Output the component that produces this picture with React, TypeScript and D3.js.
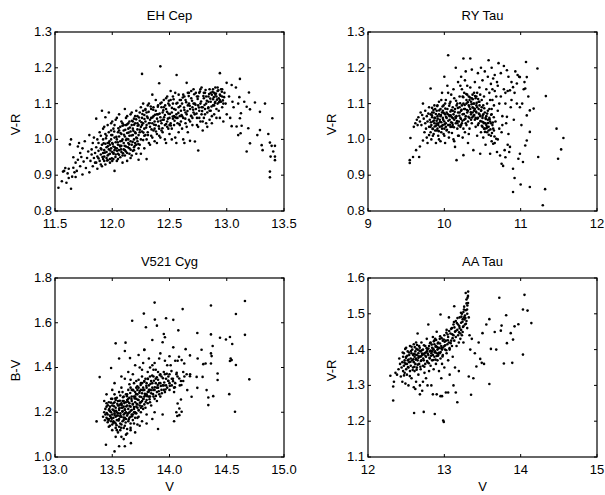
import React from "react";
import * as d3 from "d3";

type Pt = [number, number];

// EH Cep: V vs V-R
const ehCep: Pt[] = [
[11.53,0.865],[11.56,0.883],[11.58,0.912],[11.6,0.879],[11.61,0.905],[11.62,0.918],[11.63,0.986],[11.64,1.0],[11.64,0.862],[11.65,0.896],[11.66,0.921],[11.67,0.908],[11.68,0.935],[11.69,0.912],[11.7,0.943],[11.7,0.98],[11.71,0.99],[11.72,0.925],[11.73,0.951],[11.74,0.902],[11.75,0.938],[11.57,0.91],[11.59,0.92],[11.62,0.892],[11.66,0.95],[11.68,0.895],[11.72,0.962],[11.74,0.975],[11.76,0.995],[11.77,0.92],[11.78,0.948],[11.79,0.966],[11.8,0.908],[11.8,1.012],
[11.81,0.94],[11.82,0.958],[11.82,0.972],[11.83,0.925],[11.83,0.99],[11.84,0.948],[11.84,1.005],[11.85,0.962],[11.85,0.935],[11.86,0.978],[11.86,1.058],[11.87,0.952],[11.87,0.918],[11.88,0.968],[11.88,0.99],[11.89,0.94],[11.89,1.02],[11.9,0.958],[11.9,0.975],[11.9,0.93],[11.91,0.985],[11.91,1.08],[11.92,0.962],[11.92,0.945],[11.92,1.0],[11.93,0.97],[11.93,0.952],[11.93,1.035],[11.94,0.988],[11.94,0.93],[11.94,1.062],[11.95,0.965],[11.95,0.978],[11.95,1.01],[11.96,0.955],[11.96,0.99],[11.96,0.942],[11.97,0.972],[11.97,1.02],[11.97,1.075],[11.98,0.96],[11.98,0.985],[11.98,0.935],[11.99,1.0],[11.99,0.975],[11.99,1.045],
[12.0,0.965],[12.0,0.99],[12.0,1.012],[12.01,0.945],[12.01,0.98],[12.01,1.03],[12.02,0.912],[12.02,0.97],[12.02,1.005],[12.03,0.992],[12.03,0.958],[12.03,1.055],[12.04,0.975],[12.04,1.0],[12.04,0.94],[12.05,1.02],[12.05,0.985],[12.05,0.96],[12.06,1.008],[12.06,0.97],[12.06,1.07],[12.07,0.995],[12.07,0.95],[12.07,1.035],[12.08,0.982],[12.08,1.015],[12.08,0.965],[12.09,1.0],[12.09,0.935],[12.09,1.045],[12.1,0.99],[12.1,1.025],[12.1,0.972],[12.11,1.008],[12.11,0.955],[12.11,1.085],[12.12,0.998],[12.12,1.04],[12.12,0.98],[12.13,1.018],[12.13,0.962],[12.13,1.065],[12.14,1.0],[12.14,0.99],[12.14,1.03],[12.15,0.975],[12.15,1.05],[12.15,1.01],[12.16,0.948],[12.16,1.022],[12.16,0.995],[12.17,1.04],[12.17,0.985],[12.17,1.075],[12.18,1.012],[12.18,0.968],[12.18,1.03],[12.19,1.0],[12.19,1.058],[12.19,0.978],[12.2,1.02],[12.2,0.99],[12.2,1.045],[12.21,1.005],[12.21,0.96],[12.21,1.08],[12.22,1.028],[12.22,0.995],[12.22,1.065],[12.23,0.943],[12.23,1.012],[12.23,1.04],[12.24,0.985],[12.24,1.052],[12.24,1.02],[12.25,1.0],[12.25,1.035],[12.25,1.09],
[12.26,1.183],[12.26,1.022],[12.26,1.06],[12.27,0.998],[12.27,1.045],[12.27,1.08],[12.28,1.03],[12.28,0.975],[12.28,1.068],[12.29,1.012],[12.29,1.05],[12.3,0.945],[12.3,1.04],[12.3,1.075],[12.31,1.02],[12.31,1.06],[12.32,0.99],[12.32,1.1],[12.33,1.035],[12.33,1.055],[12.34,1.01],[12.34,1.085],[12.35,1.045],[12.35,1.125],[12.36,1.025],[12.36,1.065],[12.37,0.995],[12.37,1.05],[12.38,1.08],[12.38,1.04],[12.39,1.015],[12.39,1.07],[12.4,1.05],[12.4,1.095],[12.41,1.157],[12.41,1.03],[12.42,1.204],[12.42,1.062],[12.42,1.005],[12.43,1.045],[12.43,1.09],[12.44,1.075],[12.44,1.02],[12.45,1.055],[12.45,1.11],[12.46,1.04],[12.46,1.068],[12.47,0.99],[12.47,1.085],[12.48,1.05],[12.48,1.12],[12.49,1.03],[12.49,1.072],[12.5,1.06],[12.5,1.095],[12.5,1.015],[12.51,1.045],[12.51,1.135],[12.52,1.075],[12.52,1.0],[12.53,1.058],[12.53,1.1],[12.54,1.04],[12.54,1.085],[12.55,1.13],[12.55,1.062],[12.56,0.99],[12.56,1.07],[12.562,1.18],[12.57,1.045],[12.58,1.09],[12.58,1.02],[12.59,1.065],[12.59,1.11],[12.6,1.05],[12.6,1.08],
[12.61,1.03],[12.61,1.1],[12.62,1.06],[12.62,1.125],[12.63,0.99],[12.63,1.082],[12.64,1.045],[12.64,1.11],[12.65,1.158],[12.65,1.07],[12.66,1.02],[12.66,1.095],[12.67,1.13],[12.67,1.055],[12.679,0.996],[12.68,1.085],[12.69,1.115],[12.69,1.065],[12.7,1.09],[12.7,1.04],[12.71,1.14],[12.71,1.075],[12.72,1.1],[12.722,0.994],[12.73,1.085],[12.751,0.969],[12.74,1.12],[12.74,1.06],[12.75,1.095],[12.75,1.035],[12.76,1.13],[12.76,1.08],[12.77,1.1],[12.77,1.05],[12.78,1.145],[12.78,1.07],[12.79,1.09],[12.79,1.025],[12.8,1.115],[12.8,1.06],[12.81,1.085],[12.81,1.13],[12.82,1.045],[12.82,1.1],[12.83,1.075],[12.84,1.12],[12.84,1.09],[12.85,1.055],[12.85,1.14],[12.86,1.105],[12.86,1.08],[12.87,1.125],[12.87,1.045],[12.88,1.095],[12.88,1.112],[12.89,1.13],[12.89,1.07],[12.9,1.105],[12.9,1.145],[12.91,1.085],[12.91,1.12],[12.92,1.1],[12.92,1.135],[12.94,1.185],[12.93,1.115],[12.94,1.06],[12.94,1.125],[12.95,1.105],[12.95,1.14],[12.96,1.09],[12.96,1.12],[12.97,1.05],[12.98,1.13],[12.99,1.1],[12.999,1.158],[13.0,1.07],
[13.043,1.152],[13.115,1.169],[13.194,1.131],[13.11,1.118],[13.153,1.105],[13.246,1.103],[13.334,1.1],[13.1,1.1],[13.174,1.091],[13.203,1.084],[13.29,1.077],[13.124,1.073],[13.115,1.059],[13.398,1.059],[13.13,1.038],[13.086,1.036],[13.043,1.037],[13.188,1.031],[13.1,1.012],[13.121,1.017],[13.29,1.026],[13.267,1.012],[13.363,1.015],[13.203,0.989],[13.305,0.984],[13.313,0.97],[13.174,0.966],[13.377,0.991],[13.392,0.982],[13.421,0.982],[13.406,0.966],[13.383,0.952],[13.421,0.952],[13.421,0.942],[13.377,0.91],[13.377,0.894],[13.02,1.12],[13.06,1.09],[13.03,1.06],[13.08,1.145],[13.05,1.105],
[11.86,0.935],[11.87,1.0],[11.88,0.947],[11.9,1.01],[11.91,0.925],[11.92,1.03],[11.93,0.94],[11.94,1.015],[11.95,0.948],[11.96,1.04],[11.97,0.99],[11.98,0.945],[11.99,1.025],[12.0,0.94],[12.0,1.05],[12.01,0.96],[12.02,1.04],[12.03,0.975],[12.04,1.06],[12.05,0.945],[12.06,1.025],[12.07,0.98],[12.08,1.05],[12.09,0.955],[12.1,1.04],[12.11,0.97],[12.12,1.06],[12.13,0.94],[12.14,1.045],[12.15,0.96],[12.16,1.07],[12.17,0.955],[12.18,1.05],[12.19,0.97],[12.2,1.065],[12.21,0.985],[12.22,1.045],[12.23,0.975],[12.24,1.075],[12.25,0.96],[12.26,1.04],[12.27,1.1],[12.28,1.01],[12.29,1.085],[12.3,1.0],[12.31,1.095],[12.32,1.045],[12.33,0.985],[12.34,1.06],[12.35,1.005],[12.36,1.09],[12.37,1.03],[12.38,1.11],[12.39,0.99],[12.4,1.07],[12.41,1.01],[12.42,1.1],[12.43,1.025],[12.44,1.055],[12.45,1.09],[12.46,1.0],[12.47,1.115],[12.48,1.035],[12.49,1.1],[12.5,1.04],[12.51,1.11],[12.52,1.03],[12.53,1.12],[12.54,1.065],[12.55,1.005],[12.56,1.1],[12.57,1.06],[12.58,1.125],[12.59,1.04],[12.6,1.11],[12.61,1.065],[12.62,1.0],[12.63,1.12],[12.64,1.075],[12.65,1.035],[12.66,1.13],[12.67,1.1],[12.68,1.05],[12.69,1.135],[12.7,1.06],[12.71,1.1],[12.72,1.07],[12.73,1.13],[12.74,1.04],[12.75,1.12],[12.76,1.06],[12.77,1.14],[12.78,1.09],[12.79,1.05],[12.8,1.13],[12.81,1.07],[12.82,1.12],[12.83,1.035],[12.84,1.105],[12.85,1.08],[12.86,1.13],[12.87,1.065],[12.88,1.14],[12.89,1.095],[12.9,1.125],[12.91,1.06],[12.92,1.145],[12.93,1.08],[12.94,1.11],[12.96,1.14],[12.97,1.1],
[11.905,0.972],[11.915,0.951],[11.925,0.989],[11.935,0.963],[11.945,1.003],[11.955,0.941],[11.962,0.981],[11.968,0.958],[11.975,0.995],[11.983,0.969],[11.991,1.012],[11.996,0.947],[12.004,0.987],[12.011,0.962],[12.017,1.022],[12.023,0.978],[12.028,0.951],[12.036,1.007],[12.042,0.968],[12.048,0.992],[12.053,1.031],[12.059,0.957],[12.066,0.983],[12.072,1.018],[12.077,0.972],[12.084,0.996],[12.089,1.038],[12.094,0.961],[12.103,1.013],[12.108,0.982],[12.114,1.027],[12.119,0.966],[12.126,1.002],[12.131,1.042],[12.137,0.978],[12.143,1.019],[12.148,0.986],[12.154,1.033],[12.161,0.971],[12.167,1.011],[12.172,1.052],[12.178,0.993],[12.184,1.024],[12.191,1.041],[12.197,0.982],[12.204,1.017],[12.209,1.056],[12.216,1.003],[12.222,1.038],[12.228,0.987],[12.234,1.061],[12.241,1.027],
[12.256,1.048],[12.263,1.071],[12.272,1.019],[12.281,1.057],[12.289,1.082],[12.296,1.033],[12.304,1.064],[12.312,1.012],[12.318,1.077],[12.327,1.046],[12.336,1.092],[12.343,1.028],[12.351,1.061],[12.358,1.083],[12.366,1.041],[12.374,1.069],[12.382,1.022],[12.391,1.058],[12.398,1.091],[12.406,1.037],[12.414,1.072],[12.423,1.052],[12.431,1.103],[12.438,1.031],[12.446,1.081],[12.453,1.062],[12.462,1.095],[12.471,1.043],[12.478,1.077],[12.486,1.058],[12.494,1.108],[12.503,1.071],[12.512,1.039],[12.521,1.088],[12.528,1.064],[12.536,1.112],[12.544,1.052],[12.553,1.083],[12.561,1.06],[12.569,1.102],[12.577,1.074],[12.586,1.043],[12.594,1.093],
[12.605,1.068],[12.616,1.117],[12.627,1.089],[12.638,1.058],[12.646,1.104],[12.657,1.079],[12.668,1.121],[12.677,1.094],[12.688,1.066],[12.697,1.108],[12.707,1.083],[12.716,1.126],[12.727,1.097],[12.736,1.072],[12.746,1.113],[12.757,1.089],[12.766,1.134],[12.776,1.106],[12.785,1.079],[12.796,1.121],[12.806,1.096],[12.815,1.138],[12.826,1.108],[12.837,1.087],[12.846,1.127],[12.856,1.114],[12.867,1.092],[12.876,1.133],[12.887,1.118],[12.896,1.102],[12.905,1.128],[12.915,1.111],[12.926,1.137],[12.934,1.104],[12.945,1.122],[12.957,1.133],[12.966,1.109],[12.977,1.118]
];

// RY Tau: V vs V-R
const ryTau: Pt[] = [
[9.547,0.942],[9.547,0.934],[9.556,1.004],[9.59,0.951],[9.6,1.035],[9.62,1.045],[9.63,0.97],[9.64,1.055],[9.65,1.04],[9.66,1.062],[9.67,0.951],[9.68,0.98],[9.68,1.05],[9.69,1.075],[9.7,1.04],[9.71,1.068],[9.72,0.997],[9.72,1.1],[9.73,1.058],[9.74,1.02],[9.75,1.045],[9.75,1.08],[9.76,1.03],[9.77,1.065],[9.77,1.005],[9.78,1.05],[9.78,0.99],[9.79,1.072],[9.8,1.035],[9.8,1.012],[9.8,1.09],[9.82,1.142],
[9.81,1.055],[9.82,1.02],[9.82,1.07],[9.83,1.04],[9.83,1.0],[9.84,1.062],[9.84,1.088],[9.85,1.03],[9.85,1.05],[9.86,1.015],[9.86,1.075],[9.87,1.045],[9.87,1.095],[9.88,1.025],[9.88,1.06],[9.89,1.038],[9.89,0.99],[9.9,1.052],[9.9,1.08],[9.91,1.03],[9.91,1.065],[9.92,1.045],[9.92,1.01],[9.93,1.07],[9.93,1.105],[9.94,1.035],[9.94,1.055],[9.95,0.995],[9.95,1.085],[9.96,1.048],[9.96,1.02],[9.97,1.075],[9.97,1.13],[9.98,1.04],[9.98,1.06],[9.99,1.015],[9.99,1.095],[10.0,1.05],[10.0,1.175],[10.0,1.03],[10.01,1.07],[10.01,0.99],[10.02,1.11],[10.02,1.045],[10.03,1.06],[10.03,1.025],[10.04,1.085],[10.04,1.15],[10.05,1.235],[10.05,1.04],[10.06,1.068],[10.06,1.005],[10.07,1.1],[10.07,1.055],[10.08,1.035],[10.08,1.078],[10.09,1.125],[10.09,1.048],[10.1,1.062],[10.1,1.018],[10.11,1.09],[10.11,1.04],[10.12,1.14],[10.12,1.07],[10.13,1.055],[10.13,0.995],[10.14,0.979],[10.14,1.085],[10.15,1.045],[10.15,1.2],[10.16,0.942],[10.16,1.065],[10.17,1.1],[10.17,1.03],[10.18,1.16],[10.18,1.075],[10.19,1.05],[10.19,1.01],[10.2,1.09],[10.2,1.12],
[10.21,1.06],[10.21,1.035],[10.22,1.175],[10.22,1.08],[10.23,1.045],[10.23,1.14],[10.24,1.07],[10.24,1.005],[10.25,0.956],[10.25,1.226],[10.25,1.1],[10.26,1.055],[10.26,1.13],[10.27,1.085],[10.27,1.02],[10.28,1.065],[10.28,1.19],[10.29,1.04],[10.29,1.11],[10.3,1.075],[10.3,1.15],[10.31,1.05],[10.31,0.99],[10.32,1.095],[10.32,1.12],[10.33,1.06],[10.33,1.03],[10.34,1.226],[10.34,1.085],[10.35,1.105],[10.35,1.07],[10.36,1.195],[10.36,1.045],[10.37,1.09],[10.37,1.125],[10.38,1.065],[10.38,0.97],[10.39,1.1],[10.39,1.08],[10.4,1.055],[10.4,1.16],[10.41,1.115],[10.41,1.035],[10.42,1.075],[10.42,1.095],[10.43,1.13],[10.43,1.01],[10.44,1.06],[10.44,1.185],[10.45,1.085],[10.45,1.045],[10.46,1.105],[10.46,1.145],[10.47,0.96],[10.47,1.065],[10.48,1.02],[10.48,1.2],[10.49,1.09],[10.49,1.05],[10.5,1.035],[10.5,1.165],[10.51,1.07],[10.51,1.005],[10.52,1.045],[10.52,1.12],[10.53,1.03],[10.53,1.19],[10.54,1.06],[10.54,0.985],[10.55,1.14],[10.55,1.04],[10.56,1.1],[10.56,1.02],[10.57,1.055],[10.57,1.175],[10.58,1.221],[10.58,1.035],[10.59,1.085],[10.59,1.13],[10.6,0.96],[10.6,1.05],[10.61,1.155],[10.61,1.01],[10.62,1.07],[10.62,1.2],[10.63,1.04],[10.63,1.11],[10.64,0.988],[10.64,1.17],[10.65,1.025],[10.65,1.095],
[10.66,1.135],[10.67,1.05],[10.68,1.002],[10.69,1.16],[10.7,1.08],[10.71,1.213],[10.72,1.03],[10.73,0.955],[10.74,1.12],[10.75,0.932],[10.76,1.065],[10.77,0.926],[10.78,1.14],[10.79,0.97],[10.8,1.1],[10.81,1.045],[10.82,1.193],[10.82,1.063],[10.83,1.135],[10.84,1.015],[10.86,1.137],[10.86,0.979],[10.87,1.09],[10.88,1.16],[10.9,0.918],[10.9,0.853],[10.9,1.146],[10.91,1.055],[10.92,0.892],[10.93,1.19],[10.95,1.156],[10.95,1.1],[10.97,0.946],[10.98,1.175],[10.99,0.96],[10.99,1.09],[10.99,1.174],[11.0,0.874],[11.01,1.04],[11.03,0.937],[11.04,1.14],[11.06,0.983],[11.06,1.142],[11.07,1.216],[11.08,0.997],[11.08,1.067],[11.08,1.174],[11.1,1.12],[11.12,1.021],[11.12,1.081],[11.12,0.867],[11.17,1.086],[11.22,1.198],[11.23,0.951],[11.29,0.816],[11.32,0.861],[11.33,1.121],[11.47,1.03],[11.49,0.946],[11.53,0.972],[11.56,1.004],
[9.82,1.035],[9.84,1.075],[9.85,1.01],[9.87,1.06],[9.88,1.085],[9.9,1.025],[9.91,1.095],[9.92,1.04],[9.93,1.0],[9.95,1.065],[9.96,1.11],[9.97,1.03],[9.98,1.08],[10.0,1.01],[10.01,1.1],[10.02,1.035],[10.03,1.075],[10.05,1.13],[10.06,1.02],[10.07,1.065],[10.08,1.105],[10.1,1.035],[10.11,1.08],[10.12,1.0],[10.13,1.115],[10.15,1.06],[10.16,1.095],[10.17,1.045],[10.18,1.01],[10.2,1.075],[10.21,1.15],[10.22,1.04],[10.23,1.095],[10.24,1.12],[10.25,1.03],[10.26,1.085],[10.27,1.165],[10.28,1.045],[10.29,1.1],[10.3,1.125],[10.31,1.08],[10.32,1.015],[10.33,1.11],[10.34,1.145],[10.35,1.055],[10.36,1.115],[10.37,1.075],[10.38,1.1],[10.39,1.13],[10.4,1.085],[10.41,1.06],[10.42,1.12],[10.43,1.09],[10.44,1.04],[10.45,1.105],[10.46,1.07],[10.47,1.125],[10.48,1.08],[10.49,1.11],[10.5,1.06],[10.51,1.095],[10.52,1.03],[10.53,1.075],[10.54,1.045],[10.55,1.065],[10.56,1.035],[10.57,1.08],[10.58,1.025],[10.59,1.06],[10.6,1.11],[10.61,1.045],[10.62,1.085],[10.63,1.14],[10.64,1.03],[10.66,1.18],[10.68,1.12],[10.7,1.15],[10.72,1.1],[10.74,1.185],[10.76,1.04],[10.78,1.205],[10.8,1.13],[10.84,1.175],[10.88,1.11],[10.92,1.13],[10.96,1.18],[11.02,1.1],[11.05,1.16],[10.62,0.995],[10.66,0.99],[10.7,1.0],[10.69,0.965],[10.75,1.02],[10.83,0.985],[10.85,0.965],[10.8,0.95],
[9.823,1.048],[9.838,1.067],[9.846,1.029],[9.857,1.082],[9.866,1.053],[9.874,1.036],[9.889,1.071],[9.897,1.044],[9.906,1.093],[9.913,1.058],[9.927,1.023],[9.934,1.081],[9.943,1.049],[9.956,1.068],[9.964,1.037],[9.976,1.092],[9.985,1.055],[9.993,1.074],[10.004,1.042],[10.013,1.086],[10.022,1.063],[10.034,1.027],[10.043,1.071],[10.052,1.052],[10.064,1.094],[10.073,1.041],[10.084,1.067],[10.093,1.082],[10.104,1.046],[10.113,1.059],[10.126,1.034],[10.135,1.077],[10.146,1.063],[10.154,1.108],[10.166,1.051],[10.177,1.088],[10.188,1.039],[10.196,1.066],[10.207,1.101],[10.218,1.057],[10.226,1.083],[10.237,1.052],[10.248,1.118],[10.256,1.071],[10.267,1.096],[10.276,1.058],[10.287,1.127],[10.296,1.082],[10.307,1.104],[10.316,1.063],[10.327,1.091],[10.336,1.117],[10.347,1.076],[10.356,1.098],[10.364,1.061],[10.373,1.112],[10.384,1.087],[10.392,1.068],[10.403,1.121],[10.414,1.078],[10.423,1.102],[10.432,1.058],[10.443,1.113],[10.452,1.072],[10.461,1.095],[10.472,1.051],[10.483,1.081],[10.491,1.038],[10.502,1.066],[10.511,1.048],[10.523,1.087],[10.532,1.021],[10.543,1.057],[10.552,1.031],[10.561,1.072],[10.573,1.046],[10.582,1.013],[10.593,1.056],[10.604,1.028],[10.613,1.069],[10.624,1.018],[10.636,1.047],[10.648,1.062],[10.657,1.008]
];

// V521 Cyg: V vs B-V
const v521Cyg: Pt[] = [
[13.363,1.159],[13.39,1.357],[13.42,1.18],[13.43,1.2],[13.436,1.164],[13.44,1.215],[13.445,1.055],[13.45,1.175],[13.45,1.24],[13.46,1.19],[13.46,1.155],[13.47,1.21],[13.47,1.17],[13.48,1.225],[13.48,1.185],[13.48,1.14],[13.49,1.2],[13.49,1.16],[13.5,1.23],[13.5,1.19],[13.5,1.145],[13.5,1.26],[13.51,1.175],[13.51,1.21],[13.52,1.025],[13.52,1.195],[13.52,1.155],[13.52,1.245],[13.53,1.18],[13.53,1.22],[13.53,1.508],[13.53,1.13],[13.54,1.2],[13.54,1.165],[13.54,1.265],[13.55,1.185],[13.55,1.23],[13.55,1.11],[13.56,1.048],[13.56,1.21],[13.56,1.17],[13.56,1.29],[13.57,1.195],[13.57,1.235],[13.57,1.15],[13.58,1.22],[13.58,1.18],[13.58,1.09],[13.58,1.31],[13.59,1.205],[13.59,1.25],[13.59,1.16],[13.6,1.19],[13.6,1.225],[13.6,1.27],[13.6,1.13],[13.61,1.048],[13.61,1.21],[13.61,1.175],[13.61,1.35],[13.62,1.2],[13.62,1.245],[13.62,1.1],[13.616,1.511],[13.63,1.23],[13.63,1.185],[13.63,1.28],[13.64,1.215],[13.64,1.16],[13.64,1.26],[13.65,1.2],[13.65,1.24],[13.65,1.325],[13.66,1.225],[13.66,1.18],[13.66,1.12],[13.663,1.062],[13.67,1.25],[13.67,1.21],[13.67,1.3],[13.674,1.609],[13.68,1.235],[13.68,1.19],[13.68,1.37],[13.69,1.27],[13.69,1.215],[13.69,1.15],[13.7,1.245],[13.7,1.2],[13.7,1.29],[13.71,1.26],[13.71,1.225],[13.71,1.34],[13.72,1.28],[13.72,1.235],[13.72,1.175],[13.73,1.255],[13.73,1.31],[13.73,1.21],[13.74,1.27],[13.74,1.4],[13.74,1.14],[13.75,1.3],[13.75,1.245],[13.75,1.22],
[13.76,1.285],[13.76,1.33],[13.77,1.26],[13.77,1.42],[13.776,1.641],[13.78,1.3],[13.78,1.235],[13.78,1.48],[13.79,1.275],[13.79,1.35],[13.794,1.58],[13.8,1.31],[13.8,1.255],[13.8,1.19],[13.81,1.29],[13.81,1.38],[13.82,1.32],[13.82,1.27],[13.82,1.44],[13.83,1.3],[13.83,1.245],[13.84,1.34],[13.84,1.285],[13.85,1.523],[13.85,1.31],[13.85,1.41],[13.86,1.27],[13.86,1.36],[13.87,1.69],[13.87,1.3],[13.87,1.2],[13.872,1.614],[13.88,1.33],[13.88,1.39],[13.89,1.29],[13.89,1.587],[13.89,1.25],[13.9,1.345],[13.9,1.31],[13.91,1.44],[13.91,1.28],[13.92,1.33],[13.92,1.37],[13.93,1.3],[13.95,1.55],[13.96,1.535],[13.94,1.513],[13.95,1.32],[13.95,1.38],[13.96,1.29],[13.97,1.62],[13.97,1.35],[13.98,1.31],[13.99,1.34],[14.0,1.37],[14.0,1.3],[14.01,1.41],[14.02,1.32],[14.03,1.35],[14.04,1.29],[14.05,1.33],[14.05,1.43],[14.06,1.37],[14.1,1.34],[14.12,1.38],[14.13,1.36],[14.18,1.37],
[14.659,1.697],[14.115,1.661],[14.362,1.677],[14.58,1.639],[14.033,1.613],[14.077,1.566],[14.243,1.554],[14.362,1.548],[14.659,1.546],[14.441,1.533],[14.493,1.525],[14.528,1.536],[14.548,1.505],[14.377,1.496],[14.033,1.49],[14.141,1.482],[14.28,1.479],[14.362,1.463],[14.368,1.451],[14.179,1.454],[14.246,1.44],[14.083,1.448],[14.071,1.43],[14.106,1.433],[14.129,1.418],[14.295,1.415],[14.315,1.418],[14.362,1.418],[14.534,1.44],[14.543,1.433],[14.528,1.429],[14.58,1.411],[14.42,1.373],[14.42,1.344],[14.697,1.347],[14.237,1.358],[14.289,1.358],[14.179,1.361],[14.243,1.309],[14.155,1.299],[14.193,1.269],[14.324,1.299],[14.339,1.266],[14.382,1.272],[14.339,1.232],[14.522,1.281],[14.572,1.202],[14.071,1.239],[14.1,1.257],[14.086,1.217],[14.106,1.202],[14.068,1.183],[14.086,1.187],
[13.44,1.19],[13.45,1.225],[13.46,1.17],[13.47,1.245],[13.47,1.135],[13.48,1.205],[13.49,1.26],[13.49,1.175],[13.5,1.12],[13.51,1.24],[13.51,1.16],[13.52,1.28],[13.52,1.205],[13.53,1.15],[13.53,1.255],[13.54,1.185],[13.54,1.12],[13.55,1.25],[13.55,1.165],[13.56,1.23],[13.56,1.135],[13.57,1.275],[13.57,1.18],[13.58,1.24],[13.58,1.145],[13.59,1.29],[13.59,1.22],[13.6,1.165],[13.6,1.25],[13.61,1.195],[13.61,1.14],[13.62,1.28],[13.62,1.17],[13.63,1.255],[13.63,1.125],[13.64,1.195],[13.64,1.3],[13.65,1.175],[13.65,1.265],[13.66,1.15],[13.66,1.31],[13.67,1.19],[13.67,1.27],[13.68,1.165],[13.68,1.3],[13.69,1.2],[13.69,1.33],[13.7,1.175],[13.7,1.27],[13.71,1.195],[13.71,1.31],[13.72,1.22],[13.72,1.3],[13.73,1.18],[13.73,1.345],[13.74,1.23],[13.74,1.295],[13.75,1.2],[13.75,1.33],[13.76,1.25],[13.76,1.36],[13.77,1.215],[13.77,1.31],[13.78,1.27],[13.78,1.34],[13.79,1.22],[13.8,1.33],[13.8,1.28],[13.81,1.24],[13.81,1.35],[13.82,1.3],[13.83,1.27],[13.83,1.36],[13.84,1.23],[13.85,1.33],[13.86,1.3],[13.86,1.39],[13.87,1.26],[13.88,1.35],[13.89,1.31],[13.9,1.38],[13.91,1.33],[13.92,1.27],[13.93,1.36],[13.94,1.32],[13.95,1.3],[13.96,1.37],[13.97,1.32],[13.99,1.36],[14.0,1.33],[14.02,1.35],[14.04,1.31],[14.07,1.36],[14.09,1.32],[14.12,1.34],[14.15,1.37],
[13.53,1.09],[13.57,1.12],[13.6,1.08],[13.63,1.105],[13.66,1.13],[13.7,1.11],[13.72,1.145],[13.76,1.16],[13.8,1.15],[13.85,1.17],[13.9,1.125],[13.94,1.19],[14.04,1.16],[14.06,1.2],
[13.655,1.442],[13.73,1.456],[13.78,1.478],[13.92,1.463],[13.56,1.44],[13.49,1.398],[13.61,1.474],[13.87,1.42],[13.7,1.41],[13.76,1.39],[13.64,1.38],[13.58,1.36],[13.52,1.33],[13.66,1.345],[13.83,1.4],[13.96,1.43],[13.98,1.41],[14.0,1.45],[13.5,1.3],[13.45,1.28],[13.43,1.25],
[13.452,1.196],[13.461,1.231],[13.468,1.163],[13.474,1.214],[13.483,1.182],[13.489,1.243],[13.496,1.171],[13.503,1.212],[13.509,1.153],[13.516,1.227],[13.521,1.188],[13.527,1.262],[13.533,1.207],[13.538,1.142],[13.544,1.238],[13.549,1.196],[13.556,1.163],[13.561,1.218],[13.566,1.251],[13.572,1.186],[13.577,1.131],[13.583,1.232],[13.589,1.203],[13.594,1.267],[13.599,1.176],[13.605,1.241],[13.611,1.213],[13.617,1.154],[13.622,1.226],[13.628,1.272],[13.633,1.193],[13.639,1.247],[13.644,1.168],[13.651,1.228],[13.657,1.286],[13.662,1.207],[13.668,1.259],[13.673,1.182],[13.679,1.238],[13.685,1.297],[13.69,1.223],[13.696,1.262],[13.702,1.196],[13.708,1.281],[13.713,1.238],[13.719,1.316],[13.724,1.256],[13.731,1.208],[13.737,1.287],[13.742,1.243],[13.748,1.322],[13.754,1.268],[13.76,1.227],[13.767,1.298],[13.773,1.259],[13.779,1.336],[13.785,1.282],[13.792,1.246],[13.798,1.318],[13.805,1.272],[13.812,1.349],[13.819,1.292],[13.826,1.258],[13.834,1.327],[13.841,1.298],[13.849,1.364],[13.856,1.281],[13.864,1.341],[13.872,1.312],[13.881,1.273],[13.889,1.356],[13.897,1.322],[13.906,1.294],[13.915,1.366],[13.924,1.317],[13.933,1.285],[13.943,1.352],[13.954,1.333],[13.965,1.302],[13.976,1.372],[13.988,1.341],[14.003,1.318],[14.017,1.384],[14.031,1.339],[14.047,1.312],[14.063,1.376],[14.085,1.351],[14.104,1.322]
];

// AA Tau: V vs V-R
const aaTau: Pt[] = [
[12.293,1.327],[12.33,1.297],[12.33,1.258],[12.34,1.31],[12.36,1.335],[12.38,1.33],[12.4,1.345],[12.41,1.375],[12.42,1.36],[12.43,1.325],[12.44,1.35],[12.45,1.365],[12.45,1.31],[12.46,1.38],[12.46,1.34],[12.47,1.355],[12.47,1.39],[12.48,1.335],[12.48,1.37],[12.49,1.305],[12.49,1.36],[12.5,1.345],[12.5,1.38],[12.5,1.405],[12.51,1.36],[12.51,1.33],[12.52,1.37],[12.52,1.395],[12.53,1.35],[12.53,1.3],[12.54,1.385],[12.54,1.365],[12.55,1.34],[12.55,1.41],[12.56,1.375],[12.56,1.355],[12.57,1.39],[12.57,1.32],[12.58,1.37],[12.58,1.4],[12.59,1.35],[12.59,1.385],[12.6,1.365],[12.6,1.415],[12.6,1.295],[12.604,1.223],[12.61,1.38],[12.61,1.34],[12.62,1.395],[12.62,1.36],[12.63,1.375],[12.63,1.42],[12.63,1.31],[12.64,1.385],[12.64,1.35],[12.65,1.4],[12.65,1.37],[12.65,1.445],[12.66,1.33],[12.66,1.39],[12.67,1.36],[12.67,1.41],[12.68,1.38],[12.68,1.3],[12.69,1.395],[12.69,1.345],[12.7,1.37],[12.7,1.42],[12.71,1.385],[12.71,1.285],[12.72,1.355],[12.72,1.4],[12.73,1.226],[12.73,1.37],[12.74,1.335],[12.74,1.39],[12.75,1.41],[12.75,1.36],[12.76,1.38],[12.76,1.32],[12.77,1.43],[12.77,1.395],[12.78,1.365],[12.78,1.4],[12.79,1.47],[12.79,1.385],[12.8,1.34],[12.8,1.41],[12.81,1.375],[12.81,1.395],[12.82,1.42],[12.82,1.355],[12.83,1.39],[12.83,1.3],[12.84,1.405],[12.84,1.37],[12.85,1.435],[12.85,1.385],[12.86,1.4],[12.86,1.345],[12.87,1.415],[12.87,1.38],[12.875,1.22],[12.88,1.395],[12.88,1.43],[12.89,1.36],[12.89,1.41],[12.9,1.39],[12.9,1.275],[12.9,1.45],[12.91,1.4],[12.91,1.37],[12.92,1.42],[12.92,1.385],[12.93,1.405],[12.93,1.34],[12.94,1.39],[12.94,1.43],[12.95,1.498],[12.95,1.375],[12.96,1.41],[12.96,1.32],[12.97,1.4],[12.97,1.36],[12.98,1.425],[12.98,1.385],[12.985,1.202],[12.993,1.198],[13.0,1.41],[13.0,1.44],[13.0,1.35],[13.01,1.4],[13.02,1.425],[13.02,1.28],[13.03,1.39],[13.03,1.455],[13.04,1.415],[13.05,1.37],[13.05,1.435],[13.06,1.49],[13.06,1.42],[13.07,1.4],[13.07,1.33],[13.08,1.445],[13.09,1.425],[13.1,1.41],[13.1,1.46],[13.11,1.38],[13.12,1.44],[13.12,1.47],[13.13,1.521],[13.13,1.425],[13.14,1.45],[13.14,1.35],[13.15,1.435],[13.15,1.48],[13.16,1.41],[13.17,1.253],[13.17,1.455],[13.18,1.44],[13.18,1.47],[13.19,1.42],[13.19,1.34],[13.2,1.46],[13.2,1.49],[13.21,1.445],[13.21,1.43],[13.22,1.475],[13.22,1.455],[13.23,1.5],[13.23,1.44],[13.24,1.449],[13.24,1.485],[13.25,1.465],[13.25,1.505],[13.25,1.42],[13.26,1.49],[13.26,1.52],[13.27,1.47],[13.27,1.495],[13.28,1.558],[13.28,1.51],[13.29,1.48],[13.29,1.54],[13.3,1.5],[13.3,1.46],[13.31,1.53],[13.31,1.55],[13.32,1.325],[13.32,1.49],[13.33,1.44],[13.34,1.4],[13.35,1.274],[13.36,1.43],[13.38,1.32],[13.4,1.39],[13.42,1.353],[13.45,1.42],[13.47,1.374],[13.49,1.363],[13.5,1.446],[13.52,1.36],[13.55,1.47],[13.59,1.485],[13.59,1.304],[13.61,1.402],[13.66,1.449],[13.68,1.4],[13.72,1.545],[13.74,1.453],[13.75,1.467],[13.78,1.361],[13.81,1.496],[13.82,1.418],[13.87,1.446],[13.89,1.363],[13.9,1.428],[13.92,1.465],[13.97,1.471],[14.03,1.386],[14.03,1.512],[14.05,1.553],[14.09,1.509],[14.14,1.474],
[12.62,1.29],[12.68,1.275],[12.72,1.31],[12.78,1.3],[12.85,1.275],[12.95,1.27],[12.97,1.27],[13.05,1.28],[13.12,1.3],[13.15,1.28],
[12.455,1.392],[12.472,1.328],[12.488,1.402],[12.515,1.383],[12.532,1.372],[12.548,1.326],[12.563,1.396],[12.585,1.343],[12.604,1.388],[12.612,1.407],[12.626,1.372],[12.637,1.344],[12.643,1.413],[12.661,1.377],[12.674,1.397],[12.686,1.352],[12.694,1.381],[12.705,1.398],[12.727,1.387],[12.733,1.412],[12.756,1.392],[12.774,1.368],[12.792,1.403],[12.806,1.377],[12.823,1.397],[12.835,1.414],[12.853,1.402],[12.862,1.423],[12.874,1.392],[12.884,1.372],[12.893,1.427],[12.905,1.407],[12.916,1.383],[12.924,1.403],[12.943,1.417],[12.952,1.393],[12.964,1.432],[12.983,1.406],[13.004,1.422],[13.026,1.398],[13.043,1.442],[13.064,1.452],[13.083,1.418],[13.104,1.443],[13.132,1.462],[13.164,1.474],[13.193,1.448],[13.224,1.492],[13.244,1.463],[13.263,1.484],[13.283,1.472],[13.302,1.523],[13.312,1.562],[13.304,1.545],
[12.478,1.364],[12.497,1.377],[12.524,1.351],[12.539,1.392],[12.557,1.366],[12.571,1.408],[12.593,1.373],[12.608,1.352],[12.619,1.386],[12.634,1.402],[12.651,1.358],[12.665,1.381],[12.678,1.405],[12.692,1.368],[12.708,1.389],[12.724,1.375],[12.738,1.352],[12.752,1.383],[12.768,1.404],[12.783,1.389],[12.797,1.362],[12.813,1.418],[12.827,1.383],[12.842,1.395],[12.857,1.371],[12.871,1.426],[12.885,1.408],[12.899,1.382],[12.914,1.417],[12.929,1.391],[12.945,1.437],[12.961,1.404],[12.976,1.381],[12.992,1.428],[13.011,1.412],[13.027,1.447],[13.046,1.426],[13.068,1.404],[13.089,1.458],[13.108,1.432],[13.126,1.477],[13.148,1.452],[13.172,1.488],[13.196,1.466],[13.218,1.503],[13.238,1.478],[13.257,1.512],[13.276,1.488],[13.291,1.529],[13.298,1.512]
];

const ehCepXTicks = [11.5, 12.0, 12.5, 13.0, 13.5];
const ehCepYTicks = [0.8, 0.9, 1.0, 1.1, 1.2, 1.3];
const ryTauXTicks = [9, 10, 11, 12];
const ryTauYTicks = [0.8, 0.9, 1.0, 1.1, 1.2, 1.3];
const v521XTicks = [13.0, 13.5, 14.0, 14.5, 15.0];
const v521YTicks = [1.0, 1.2, 1.4, 1.6, 1.8];
const aaTauXTicks = [12, 13, 14, 15];
const aaTauYTicks = [1.1, 1.2, 1.3, 1.4, 1.5, 1.6];

const PW = 229;
const PH = 179;
const FONT = "'Liberation Sans', Arial, Helvetica, sans-serif";
const FS = 13;

interface Spec {
  title: string;
  data: Pt[];
  xTicks: number[];
  yTicks: number[];
  xDigits: number;
  yDigits: number;
  yLabel: string;
  xLabel?: string;
  left: number;
  top: number;
  yLabelX: number;
}

const specs: Spec[] = [
  { title: "EH Cep", data: ehCep, xTicks: ehCepXTicks, yTicks: ehCepYTicks, xDigits: 1, yDigits: 1, yLabel: "V-R", left: 55, top: 32, yLabelX: 15 },
  { title: "RY Tau", data: ryTau, xTicks: ryTauXTicks, yTicks: ryTauYTicks, xDigits: 0, yDigits: 1, yLabel: "V-R", left: 368, top: 32, yLabelX: 331 },
  { title: "V521 Cyg", data: v521Cyg, xTicks: v521XTicks, yTicks: v521YTicks, xDigits: 1, yDigits: 1, yLabel: "B-V", xLabel: "V", left: 55, top: 278, yLabelX: 15 },
  { title: "AA Tau", data: aaTau, xTicks: aaTauXTicks, yTicks: aaTauYTicks, xDigits: 0, yDigits: 1, yLabel: "V-R", xLabel: "V", left: 368, top: 278, yLabelX: 331 },
];

function Panel({ s }: { s: Spec }) {
  const xd = [s.xTicks[0], s.xTicks[s.xTicks.length - 1]];
  const yd = [s.yTicks[0], s.yTicks[s.yTicks.length - 1]];
  const x = d3.scaleLinear().domain(xd).range([s.left, s.left + PW]);
  const y = d3.scaleLinear().domain(yd).range([s.top + PH, s.top]);
  const bottom = s.top + PH;
  const right = s.left + PW;
  const tl = 3;
  return (
    <g>
      <text x={s.left + PW / 2} y={s.top - 12} textAnchor="middle" fontSize={FS} fontFamily={FONT}>{s.title}</text>
      <g>
        {s.data.map((p, i) => (
          <circle key={i} cx={x(p[0])} cy={y(p[1])} r={1.3} fill="#000" />
        ))}
      </g>
      <rect x={s.left} y={s.top} width={PW} height={PH} fill="none" stroke="#000" strokeWidth={1.2} />
      {s.xTicks.map((t, i) => (
        <g key={"x" + i}>
          <line x1={x(t)} x2={x(t)} y1={bottom} y2={bottom - tl} stroke="#000" strokeWidth={1} />
          <line x1={x(t)} x2={x(t)} y1={s.top} y2={s.top + tl} stroke="#000" strokeWidth={1} />
          <text x={x(t)} y={bottom + 17} textAnchor="middle" fontSize={FS} fontFamily={FONT}>{t.toFixed(s.xDigits)}</text>
        </g>
      ))}
      {s.yTicks.map((t, i) => (
        <g key={"y" + i}>
          <line x1={s.left} x2={s.left + tl} y1={y(t)} y2={y(t)} stroke="#000" strokeWidth={1} />
          <line x1={right} x2={right - tl} y1={y(t)} y2={y(t)} stroke="#000" strokeWidth={1} />
          <text x={s.left - 3} y={y(t)} dy="0.3em" textAnchor="end" fontSize={FS} fontFamily={FONT}>{t.toFixed(s.yDigits)}</text>
        </g>
      ))}
      <text transform={`translate(${s.yLabelX},${s.top + PH / 2 + 3}) rotate(-90)`} dy="0.36em" textAnchor="middle" fontSize={FS} fontFamily={FONT}>{s.yLabel}</text>
      {s.xLabel && (
        <text x={s.left + PW / 2} y={bottom + 34} textAnchor="middle" fontSize={FS} fontFamily={FONT}>{s.xLabel}</text>
      )}
    </g>
  );
}

export default function App() {
  return (
    <svg width={605} height={495} style={{ position: "absolute", left: 0, top: 0, background: "#fff" }}>
      <rect x={0} y={0} width={605} height={495} fill="#fff" />
      {specs.map((s, i) => (
        <Panel key={i} s={s} />
      ))}
    </svg>
  );
}
